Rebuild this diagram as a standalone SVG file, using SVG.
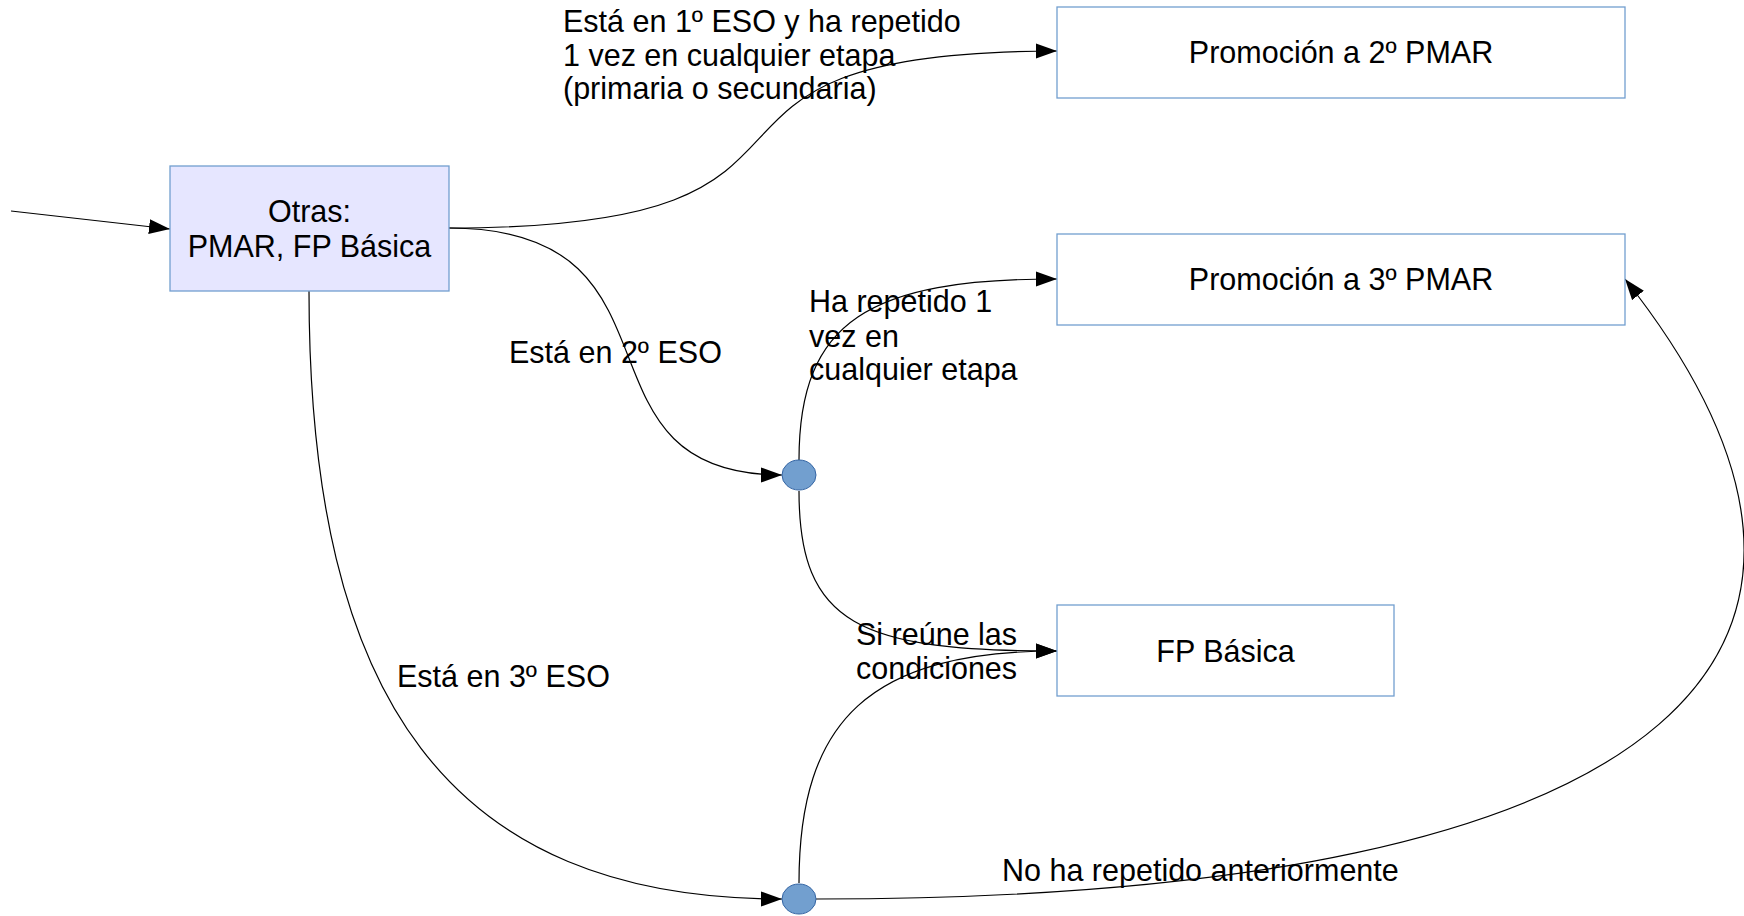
<svg xmlns="http://www.w3.org/2000/svg" width="1744" height="916" viewBox="0 0 1744 916">
<style>
.box{fill:#ffffff;stroke:#729fcf;stroke-width:1.3}
.main{fill:#e6e6ff;stroke:#729fcf;stroke-width:1.3}
.dot{fill:#729fcf;stroke:#3465a4;stroke-width:1}
.c{fill:none;stroke:#000;stroke-width:1.2}
text{font-family:"Liberation Sans",Arial,sans-serif;font-size:30.5px;fill:#000}
.m{text-anchor:middle}
</style>
<defs>
<marker id="a" markerUnits="userSpaceOnUse" markerWidth="22" markerHeight="16" refX="21" refY="7.5" orient="auto" viewBox="0 0 22 15">
<path d="M0,0 L21,7.5 L0,15 z" fill="#000"/>
</marker>
</defs>
<rect width="1744" height="916" fill="#fff"/>
<g id="connectors">
<path class="c" marker-end="url(#a)" d="M11,211 L170,229"/>
<path class="c" marker-end="url(#a)" d="M449,228 C900,228 620,51 1057,51"/>
<path class="c" marker-end="url(#a)" d="M449,228 C700,228 560,475 782,475"/>
<path class="c" marker-end="url(#a)" d="M309,291 C309,700 450,899 782,899"/>
<path class="c" marker-end="url(#a)" d="M799,460 C799,320 870,279 1057,279"/>
<path class="c" marker-end="url(#a)" d="M799,491 C799,625 860,651 1057,651"/>
<path class="c" marker-end="url(#a)" d="M799,883 C799,720 870,651 1057,651"/>
<path class="c" marker-end="url(#a)" d="M816,899 C1700,899 1910,640 1625,279"/>
</g>
<g id="otras">
<rect class="main" x="170" y="166" width="279" height="125"/>
<text class="m" x="309.5" y="222">Otras:</text>
<text class="m" x="309.5" y="256.5">PMAR, FP Básica</text>
</g>
<g id="promo2">
<rect class="box" x="1057" y="7" width="568" height="91"/>
<text class="m" x="1341" y="63">Promoción a 2º PMAR</text>
</g>
<g id="promo3">
<rect class="box" x="1057" y="234" width="568" height="91"/>
<text class="m" x="1341" y="290">Promoción a 3º PMAR</text>
</g>
<g id="fpbasica">
<rect class="box" x="1057" y="605" width="337" height="91"/>
<text class="m" x="1225.5" y="662">FP Básica</text>
</g>
<g id="junction1">
<ellipse class="dot" cx="799" cy="475" rx="17" ry="15"/>
</g>
<g id="junction2">
<ellipse class="dot" cx="799" cy="899" rx="17" ry="15"/>
</g>
<g id="labels">
<text x="563" y="32">Está en 1º ESO y ha repetido</text>
<text x="563" y="65.5">1 vez en cualquier etapa</text>
<text x="563" y="99">(primaria o secundaria)</text>
<text x="509" y="363">Está en 2º ESO</text>
<text x="809" y="312">Ha repetido 1</text>
<text x="809" y="346.5">vez en</text>
<text x="809" y="380">cualquier etapa</text>
<text x="856" y="645">Si reúne las</text>
<text x="856" y="679">condiciones</text>
<text x="397" y="687">Está en 3º ESO</text>
<text x="1002" y="880.5">No ha repetido anteriormente</text>
</g>
</svg>
